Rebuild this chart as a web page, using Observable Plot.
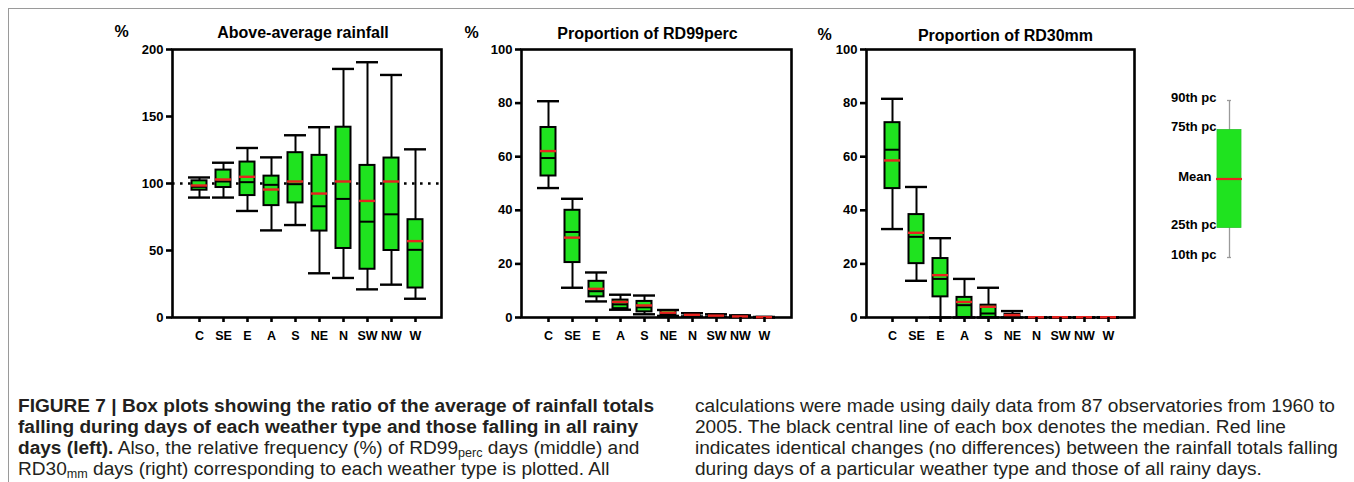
<!DOCTYPE html>
<html><head><meta charset="utf-8">
<script src="https://cdn.jsdelivr.net/npm/d3@7"></script>
<script src="https://cdn.jsdelivr.net/npm/@observablehq/plot@0.6"></script>
<style>
html,body{margin:0;padding:0;background:#fff;overflow:hidden}
#fig{position:relative;width:1354px;height:482px;overflow:hidden;background:#fff}
.panel{position:absolute;top:0}
#borderTop{position:absolute;left:8px;top:8px;width:1346px;height:0;border-top:1px solid #9a9a9a}
#borderLeft{position:absolute;left:8px;top:8px;width:0;height:474px;border-left:1px solid #9a9a9a}
.cap{position:absolute;white-space:nowrap;font-family:"Liberation Sans",Arial,Helvetica,sans-serif;font-size:18px;line-height:21px;color:#231f20;transform-origin:0 0}
.cap b{font-weight:bold}
.cap sub{font-size:0.66em;vertical-align:-0.25em;line-height:0}
</style></head><body>
<div id="fig"><div id="borderTop"></div><div id="borderLeft"></div></div>
<script>
// ---------- data ----------
const types = ["C","SE","E","A","S","NE","N","SW","NW","W"];

// Panel 1: above-average rainfall (%)
const ratioP10    = [89.5, 89.5, 79.5, 65.0, 69.0, 33.0, 29.5, 21.0, 24.5, 14.0];
const ratioP25    = [95.0, 97.0, 91.0, 83.5, 85.5, 64.5, 51.5, 36.0, 50.0, 22.0];
const ratioMedian = [97.5, 101.5, 101.0, 99.0, 99.5, 83.0, 88.5, 71.5, 77.0, 50.5];
const ratioMean   = [98.5, 103.0, 105.0, 95.5, 101.5, 92.5, 101.5, 87.0, 101.5, 57.0];
const ratioP75    = [102.0, 110.0, 116.0, 105.5, 123.0, 121.0, 142.0, 113.5, 119.0, 73.0];
const ratioP90    = [104.5, 115.5, 126.5, 119.5, 136.0, 142.0, 185.5, 190.5, 181.0, 125.5];

// Panel 2: proportion of RD99perc (%)
const rd99P10    = [48.3, 11.1, 6.0, 2.9, 1.2, 0.6, 0.4, 0.25, 0.1, 0];
const rd99P25    = [52.8, 20.5, 7.7, 3.3, 2.1, 1.0, 0.6, 0.5, 0.2, 0];
const rd99Median = [59.5, 31.9, 9.8, 4.9, 3.8, 1.6, 0.85, 0.6, 0.3, 0];
const rd99Mean   = [62.1, 29.8, 10.7, 5.8, 4.5, 1.8, 1.0, 0.7, 0.4, 0.1];
const rd99P75    = [70.9, 40.0, 13.5, 6.5, 6.0, 2.6, 1.35, 1.0, 0.6, 0.1];
const rd99P90    = [80.7, 44.3, 16.8, 8.5, 8.2, 2.8, 1.6, 1.2, 0.8, 0.2];

// Panel 3: proportion of RD30mm (%)
const rd30P10    = [33.0, 13.7, 0, 0, 0, 0, 0, 0, 0, 0];
const rd30P25    = [48.1, 20.1, 7.7, 0, 0, 0, 0, 0, 0, 0];
const rd30Median = [62.6, 30.1, 14.4, 4.6, 1.5, 0.4, 0, 0, 0, 0];
const rd30Mean   = [58.6, 31.6, 15.8, 5.8, 4.0, 0.9, 0.1, 0.1, 0.1, 0.1];
const rd30P75    = [72.7, 38.4, 22.0, 7.5, 4.6, 1.2, 0, 0, 0, 0];
const rd30P90    = [81.6, 48.7, 29.6, 14.4, 11.1, 2.4, 0, 0, 0, 0];

const panelTitles = ["Above-average rainfall", "Proportion of RD99perc", "Proportion of RD30mm"];
const unitLabel = "%";
const ratioTicks = [0, 50, 100, 150, 200];
const propTicks = [0, 20, 40, 60, 80, 100];
const referenceLine = [100];

// legend key
const keyLabels = ["90th pc", "75th pc", "Mean", "25th pc", "10th pc"];
const keyValues = [90, 75, 50, 25, 10];

const captionLeft = [
  '<b>FIGURE 7 | Box plots showing the ratio of the average of rainfall totals</b>',
  '<b>falling during days of each weather type and those falling in all rainy</b>',
  '<b>days (left).</b> Also, the relative frequency (%) of RD99<sub>perc</sub> days (middle) and',
  'RD30<sub>mm</sub> days (right) corresponding to each weather type is plotted. All'
];
const captionRight = [
  'calculations were made using daily data from 87 observatories from 1960 to',
  '2005. The black central line of each box denotes the median. Red line',
  'indicates identical changes (no differences) between the rainfall totals falling',
  'during days of a particular weather type and those of all rainy days.'
];

// ---------- drawing ----------
const GREEN = "#1fe31f";
const RED = "#e8231f";
const FONT = '"Liberation Sans", Arial, Helvetica, sans-serif';

function rows(p10, p25, med, mean, p75, p90) {
  return types.map((t, i) => ({type: t, p10: p10[i], p25: p25[i], median: med[i], mean: mean[i], p75: p75[i], p90: p90[i]}));
}

function boxPanel(cfg) {
  const data = cfg.data;
  const marks = [Plot.frame({stroke: "#000", strokeWidth: 2.6})];
  if (cfg.ref) marks.push(Plot.ruleY(cfg.ref, {stroke: "#000", strokeWidth: 2.6, strokeDasharray: "2.6,5.4"}));
  marks.push(
    Plot.ruleX(data, {x: "type", y1: "p10", y2: "p90", stroke: "#000", strokeWidth: 2}),
    Plot.tickY(data, {x: "type", y: "p10", stroke: "#000", strokeWidth: 2.4}),
    Plot.tickY(data, {x: "type", y: "p90", stroke: "#000", strokeWidth: 2.4}),
    Plot.barY(data, {x: "type", y1: "p25", y2: "p75", fill: GREEN, stroke: "#000", strokeWidth: 2, insetLeft: 3.5, insetRight: 3.5}),
    Plot.tickY(data, {x: "type", y: "median", stroke: "#000", strokeWidth: 2, insetLeft: 3.5, insetRight: 3.5}),
    Plot.tickY(data, {x: "type", y: "mean", stroke: RED, strokeWidth: 2.4, insetLeft: 3, insetRight: 3}),
    Plot.axisY({ticks: cfg.ticks, tickSize: 6, tickPadding: 3, strokeWidth: 2.6, fontSize: 13, label: null}),
    Plot.axisX({tickSize: 5, tickPadding: 9, strokeWidth: 2.6, fontSize: 12.5, label: null}),
    Plot.text([cfg.title], {text: d => d, frameAnchor: "top", textAnchor: "middle", lineAnchor: "middle", dx: cfg.titleDx, dy: cfg.titleDy, fontSize: 16, fontWeight: "bold"}),
    Plot.text([unitLabel], {text: d => d, frameAnchor: "top-left", textAnchor: "middle", lineAnchor: "middle", dx: cfg.pctDx, dy: cfg.titleDy - 1, fontSize: 16, fontWeight: "bold"})
  );
  return Plot.plot({
    width: cfg.width, height: 345,
    marginLeft: cfg.marginLeft, marginRight: cfg.marginRight, marginTop: 49, marginBottom: 28,
    style: {fontFamily: FONT, fontWeight: "bold", color: "#000", background: "transparent", overflow: "visible"},
    x: {type: "band", domain: types, paddingInner: 0.1, paddingOuter: 0.55, label: null},
    y: {domain: cfg.domain, label: null},
    marks
  });
}

const fig = document.getElementById("fig");
function place(svg, left) {
  const d = document.createElement("div");
  d.className = "panel";
  d.style.left = left + "px";
  d.appendChild(svg);
  fig.appendChild(d);
}

place(boxPanel({data: rows(ratioP10, ratioP25, ratioMedian, ratioMean, ratioP75, ratioP90), domain: [0, 200], ticks: ratioTicks,
  title: panelTitles[0], ref: referenceLine, width: 460, marginLeft: 172, marginRight: 19, titleDx: -4, titleDy: -17, pctDx: -51}), 0);
place(boxPanel({data: rows(rd99P10, rd99P25, rd99Median, rd99Mean, rd99P75, rd99P90), domain: [0, 100], ticks: propTicks,
  title: panelTitles[1], width: 460, marginLeft: 171, marginRight: 19, titleDx: -9, titleDy: -16, pctDx: -50}), 350);
place(boxPanel({data: rows(rd30P10, rd30P25, rd30Median, rd30Mean, rd30P75, rd30P90), domain: [0, 100], ticks: propTicks,
  title: panelTitles[2], width: 460, marginLeft: 171, marginRight: 21, titleDx: 5, titleDy: -14, pctDx: -42}), 695);

// legend key
const keyRows = keyLabels.map((l, i) => ({label: l, v: keyValues[i], k: "key"}));
const keyStat = [{k: "key", p10: keyValues[4], p25: keyValues[3], mean: keyValues[2], p75: keyValues[1], p90: keyValues[0]}];
const legend = Plot.plot({
  width: 110, height: 345, marginLeft: 67, marginRight: 19, marginTop: 100, marginBottom: 88,
  style: {fontFamily: FONT, fontWeight: "bold", color: "#000", background: "transparent", overflow: "visible"},
  x: {type: "band", domain: ["key"], padding: 0, axis: null},
  y: {domain: [10, 90], axis: null},
  marks: [
    Plot.ruleX(keyStat, {x: "k", y1: "p10", y2: "p90", stroke: "#9a9a9a", strokeWidth: 1.3}),
    Plot.tickY(keyStat, {x: "k", y: "p10", stroke: "#9a9a9a", strokeWidth: 1.3, insetLeft: 10, insetRight: 10}),
    Plot.tickY(keyStat, {x: "k", y: "p90", stroke: "#9a9a9a", strokeWidth: 1.3, insetLeft: 10, insetRight: 10}),
    Plot.barY(keyStat, {x: "k", y1: "p25", y2: "p75", fill: GREEN, stroke: "#2cc52c", strokeWidth: 0.8}),
    Plot.tickY(keyStat, {x: "k", y: "mean", stroke: RED, strokeWidth: 2.2, insetLeft: -1, insetRight: -1}),
    Plot.text(keyRows.filter(d => d.label !== "Mean"), {y: "v", text: "label", frameAnchor: "left", textAnchor: "end", lineAnchor: "middle", dx: -1, dy: -3, fontSize: 13}),
    Plot.text(keyRows.filter(d => d.label === "Mean"), {y: "v", text: "label", frameAnchor: "left", textAnchor: "end", lineAnchor: "middle", dx: -6, dy: -2, fontSize: 13})
  ]
});
place(legend, 1150);

// caption
function captionColumn(lines, left, target) {
  const els = lines.map((html, i) => {
    const d = document.createElement("div");
    d.className = "cap";
    d.style.left = left + "px";
    d.style.top = (396 + 21 * i) + "px";
    d.innerHTML = html;
    fig.appendChild(d);
    return d;
  });
  const w = els[0].getBoundingClientRect().width;
  const s = target / w;
  els.forEach(e => e.style.transform = `scaleX(${s})`);
}
captionColumn(captionLeft, 18, 636);
captionColumn(captionRight, 695, 640);
</script>
</body></html>
